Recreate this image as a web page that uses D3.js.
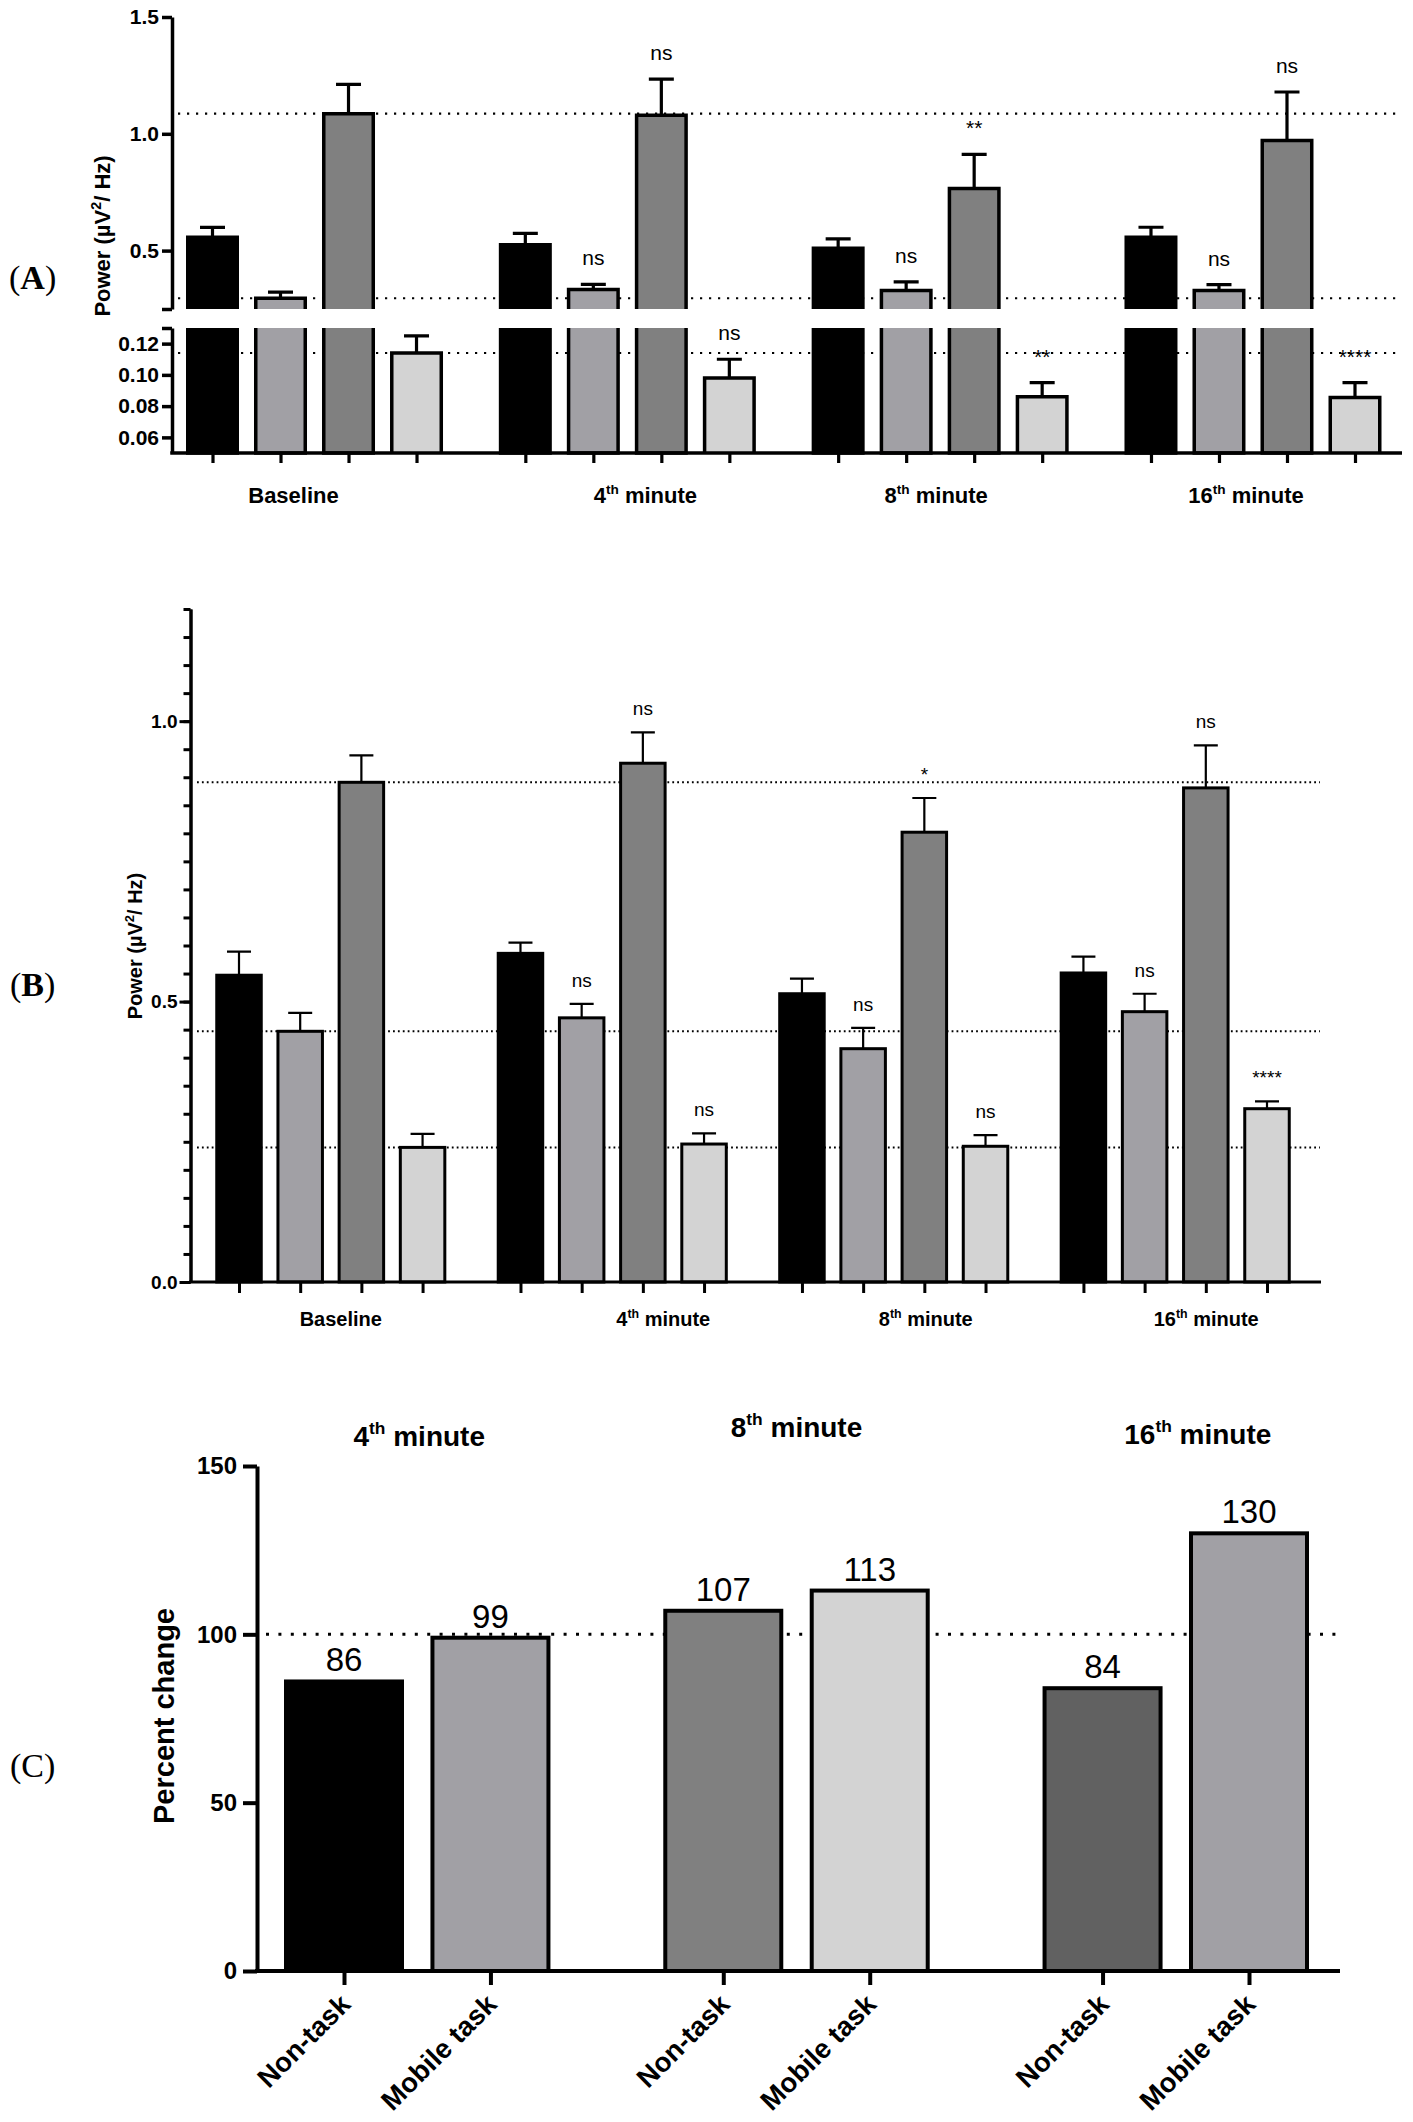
<!DOCTYPE html>
<html>
<head>
<meta charset="utf-8">
<script src="https://cdn.jsdelivr.net/npm/d3@7"></script>
<style>
body { margin: 0; background: #fff; }
text { font-family: "Liberation Sans", Arial, sans-serif; fill: #000; }
</style>
</head>
<body>
<svg id="chart" width="1413" height="2122"></svg>
<script>
// ---- data ----
const timeGroups = ["Baseline", "4th minute", "8th minute", "16th minute"]
const barColors = ["#000000", "#a1a0a5", "#808080", "#d3d3d3"]

// panel A, one row per series, one column per time group
const meanA = [
    [0.557, 0.525, 0.510, 0.557],
    [0.296, 0.333, 0.329, 0.329],
    [1.086, 1.079, 0.766, 0.971],
    [0.114, 0.098, 0.086, 0.0855]
]
const errA = [
    [0.042, 0.049, 0.040, 0.043],
    [0.026, 0.022, 0.037, 0.025],
    [0.126, 0.155, 0.146, 0.208],
    [0.011, 0.012, 0.009, 0.0095]
]
const sigA = [
    ["", "", "", ""],
    ["", "ns", "ns", "ns"],
    ["", "ns", "**", "ns"],
    ["", "ns", "**", "****"]
]
const ticksAUpper = [0.5, 1.0, 1.5]
const ticksALower = [0.06, 0.08, 0.10, 0.12]

// panel B
const meanB = [
    [0.547, 0.586, 0.514, 0.551],
    [0.447, 0.471, 0.416, 0.482],
    [0.891, 0.925, 0.802, 0.881],
    [0.240, 0.246, 0.242, 0.309]
]
const errB = [
    [0.042, 0.019, 0.027, 0.029],
    [0.033, 0.025, 0.037, 0.032],
    [0.048, 0.055, 0.061, 0.076],
    [0.024, 0.019, 0.020, 0.013]
]
const sigB = [
    ["", "", "", ""],
    ["", "ns", "ns", "ns"],
    ["", "ns", "*", "ns"],
    ["", "ns", "ns", "****"]
]
const ticksB = [0.0, 0.5, 1.0]

// panel C
const changeGroups = ["4th minute", "8th minute", "16th minute"]
const changeConds = ["Non-task", "Mobile task"]
const changeValues = [86, 99, 107, 113, 84, 130]
const changeColors = ["#000000", "#a1a0a5", "#808080", "#d3d3d3", "#616161", "#a1a0a5"]
const ticksC = [0, 50, 100, 150]

const svg = d3.select("#chart")
svg.append("rect").attr("width", 1413).attr("height", 2122).attr("fill", "#fff")

// "4th minute" -> 4 + superscript th + minute
function supLabel(sel, label, size) {
    const m = label.match(/^(\d+)(th)(.*)$/)
    if (!m) {
        sel.text(label)
        return
    }
    sel.append("tspan").text(m[1])
    sel.append("tspan").style("font-size", (size * 0.62) + "px").attr("dy", -size * 0.42).text(m[2])
    sel.append("tspan").attr("dy", size * 0.42).text(m[3])
}

function styleAxis(g, width, fontSize) {
    g.select(".domain").attr("stroke", "#000").attr("stroke-width", width)
    g.selectAll(".tick line").attr("stroke", "#000").attr("stroke-width", width)
    g.selectAll(".tick text")
        .attr("font-family", null)
        .style("font-family", "'Liberation Sans', Arial, sans-serif")
        .style("font-size", fontSize + "px")
        .style("font-weight", "bold")
}

function panelLabel(letter, x, y, bold) {
    const t = svg.append("text")
        .attr("x", x).attr("y", y)
        .style("font-family", "'Liberation Serif', 'Times New Roman', serif")
        .style("font-size", "34px")
    t.append("tspan").text("(")
    t.append("tspan").style("font-weight", bold ? "bold" : "normal").text(letter)
    t.append("tspan").text(")")
}

function yTitle(x, y, size, parts) {
    const t = svg.append("text")
        .attr("transform", "translate(" + x + "," + y + ") rotate(-90)")
        .attr("text-anchor", "middle")
        .style("font-size", size + "px")
        .style("font-weight", "bold")
    parts(t, size)
}

function powerTitle(t, size) {
    t.append("tspan").text("Power (\u00b5V")
    t.append("tspan").style("font-size", (size * 0.65) + "px").attr("dy", -size * 0.4).text("2")
    t.append("tspan").attr("dy", size * 0.4).text("/ Hz)")
}

// ---------------- panel A (broken y axis) ----------------
function drawA() {
    const g = svg.append("g")
    const x = d3.scaleLinear().domain([0, 16.8]).range([212.5, 1355])
    const yU = d3.scaleLinear().domain([0.25, 1.5]).range([309, 17])
    const yL = d3.scaleLinear().domain([0.05, 0.13]).range([453, 328])
    const yAny = (v) => v > 0.13 ? yU(v) : yL(v)
    const bw = 49.5
    const rows = []
    meanA.forEach((vals, s) => {
        vals.forEach((v, gi) => {
            rows.push({ s: s, gi: gi, slot: s + gi * 4.6, v: v, e: errA[s][gi], sig: sigA[s][gi] })
        })
    })

    // reference lines at the baseline level of each non-black series
    g.selectAll(".refA")
        .data([1, 2, 3])
        .enter()
        .append("line")
        .attr("class", "refA")
        .attr("x1", 178).attr("x2", 1402)
        .attr("y1", (s) => { return yAny(meanA[s][0]) })
        .attr("y2", (s) => { return yAny(meanA[s][0]) })
        .attr("stroke", "#000")
        .attr("stroke-width", 2.2)
        .attr("stroke-dasharray", "2.2,6.8")

    // upper segment pieces
    const up = rows.filter((d) => d.v > 0.25)
    g.selectAll(".barUp")
        .data(up)
        .enter()
        .append("rect")
        .attr("x", (d) => { return x(d.slot) - bw / 2 })
        .attr("y", (d) => { return yU(d.v) })
        .attr("width", bw)
        .attr("height", (d) => { return yU(0.25) - yU(d.v) })
        .attr("fill", (d) => { return barColors[d.s] })
    g.selectAll(".barUpLine")
        .data(up)
        .enter()
        .append("path")
        .attr("d", (d) => {
            const l = x(d.slot) - bw / 2, r = x(d.slot) + bw / 2
            return "M" + l + "," + yU(0.25) + "V" + yU(d.v) + "H" + r + "V" + yU(0.25)
        })
        .attr("fill", "none").attr("stroke", "#000").attr("stroke-width", 3.5)

    // lower segment pieces
    g.selectAll(".barLow")
        .data(rows)
        .enter()
        .append("rect")
        .attr("x", (d) => { return x(d.slot) - bw / 2 })
        .attr("y", (d) => { return yL(Math.min(d.v, 0.13)) })
        .attr("width", bw)
        .attr("height", (d) => { return yL(0.05) - yL(Math.min(d.v, 0.13)) })
        .attr("fill", (d) => { return barColors[d.s] })
    g.selectAll(".barLowLine")
        .data(rows)
        .enter()
        .append("path")
        .attr("d", (d) => {
            const l = x(d.slot) - bw / 2, r = x(d.slot) + bw / 2
            const t = yL(Math.min(d.v, 0.13)), b = yL(0.05)
            if (d.v > 0.13) return "M" + l + "," + t + "V" + b + "H" + r + "V" + t
            return "M" + l + "," + b + "V" + t + "H" + r + "V" + b
        })
        .attr("fill", "none").attr("stroke", "#000").attr("stroke-width", 3.5)

    // error bars (upper side only)
    g.selectAll(".errA")
        .data(rows)
        .enter()
        .append("path")
        .attr("d", (d) => {
            const cx = x(d.slot), top = yAny(d.v + d.e)
            return "M" + cx + "," + yAny(d.v) + "V" + top + "M" + (cx - 12.5) + "," + top + "H" + (cx + 12.5)
        })
        .attr("fill", "none").attr("stroke", "#000").attr("stroke-width", 3.2)

    g.selectAll(".sigA")
        .data(rows.filter((d) => d.sig !== ""))
        .enter()
        .append("text")
        .attr("x", (d) => { return x(d.slot) })
        .attr("y", (d) => { return yAny(d.v + d.e) - 19 })
        .attr("text-anchor", "middle")
        .style("font-size", "21px")
        .text((d) => { return d.sig })

    // axes
    const axU = g.append("g").attr("transform", "translate(172,0)")
        .call(d3.axisLeft(yU).tickValues([0.25].concat(ticksAUpper)).tickSize(10).tickSizeOuter(0).tickPadding(3)
            .tickFormat((d) => { return d === 0.25 ? "" : d3.format(".1f")(d) }))
    styleAxis(axU, 3.5, 21)
    const axL = g.append("g").attr("transform", "translate(172,0)")
        .call(d3.axisLeft(yL).tickValues(ticksALower.concat([0.13])).tickSize(10).tickSizeOuter(0).tickPadding(3)
            .tickFormat((d) => { return d === 0.13 ? "" : d3.format(".2f")(d) }))
    styleAxis(axL, 3.5, 21)

    g.append("line").attr("x1", 170.25).attr("x2", 1402).attr("y1", 453).attr("y2", 453)
        .attr("stroke", "#000").attr("stroke-width", 3.5)
    const axX = g.append("g").attr("transform", "translate(0,453)")
        .call(d3.axisBottom(x).tickValues(rows.map((d) => d.slot)).tickSize(10).tickFormat(""))
    axX.select(".domain").remove()
    axX.selectAll(".tick line").attr("stroke", "#000").attr("stroke-width", 3.2)

    const dx = [-21, 18, -4, -7]
    timeGroups.forEach((lab, gi) => {
        const t = g.append("text")
            .attr("x", x(1.5 + gi * 4.6) + dx[gi]).attr("y", 503)
            .attr("text-anchor", "middle")
            .style("font-size", "22px").style("font-weight", "bold")
        supLabel(t, lab, 22)
    })

    yTitle(110, 236, 22, powerTitle)
    panelLabel("A", 9, 289, true)
}

// ---------------- panel B ----------------
function drawB() {
    const g = svg.append("g")
    const x = d3.scaleLinear().domain([0, 16.8]).range([239, 1267])
    const y = d3.scaleLinear().domain([0, 1.2]).range([1282, 609])
    const bw = 44.5
    const rows = []
    meanB.forEach((vals, s) => {
        vals.forEach((v, gi) => {
            rows.push({ s: s, gi: gi, slot: s + gi * 4.6, v: v, e: errB[s][gi], sig: sigB[s][gi] })
        })
    })

    g.selectAll(".refB")
        .data([1, 2, 3])
        .enter()
        .append("line")
        .attr("x1", 197).attr("x2", 1320)
        .attr("y1", (s) => { return y(meanB[s][0]) })
        .attr("y2", (s) => { return y(meanB[s][0]) })
        .attr("stroke", "#000")
        .attr("stroke-width", 2)
        .attr("stroke-dasharray", "1.8,3.1")

    g.selectAll(".barB")
        .data(rows)
        .enter()
        .append("rect")
        .attr("x", (d) => { return x(d.slot) - bw / 2 })
        .attr("y", (d) => { return y(d.v) })
        .attr("width", bw)
        .attr("height", (d) => { return y(0) - y(d.v) })
        .attr("fill", (d) => { return barColors[d.s] })
        .attr("stroke", "#000")
        .attr("stroke-width", 3)

    g.selectAll(".errB")
        .data(rows)
        .enter()
        .append("path")
        .attr("d", (d) => {
            const cx = x(d.slot), top = y(d.v + d.e)
            return "M" + cx + "," + y(d.v) + "V" + top + "M" + (cx - 12) + "," + top + "H" + (cx + 12)
        })
        .attr("fill", "none").attr("stroke", "#000").attr("stroke-width", 2.2)

    g.selectAll(".sigB")
        .data(rows.filter((d) => d.sig !== ""))
        .enter()
        .append("text")
        .attr("x", (d) => { return x(d.slot) })
        .attr("y", (d) => { return y(d.v + d.e) - 17 })
        .attr("text-anchor", "middle")
        .style("font-size", "19px")
        .text((d) => { return d.sig })

    const minor = g.append("g").attr("transform", "translate(190.5,0)")
        .call(d3.axisLeft(y).tickValues(d3.range(0, 24.5).map((i) => i * 0.05)).tickSize(7).tickSizeOuter(0).tickFormat(""))
    styleAxis(minor, 3, 19)
    const major = g.append("g").attr("transform", "translate(190.5,0)")
        .call(d3.axisLeft(y).tickValues(ticksB).tickSize(11).tickSizeOuter(0).tickPadding(2).tickFormat(d3.format(".1f")))
    styleAxis(major, 3, 19)

    g.append("line").attr("x1", 189).attr("x2", 1321).attr("y1", 1282).attr("y2", 1282)
        .attr("stroke", "#000").attr("stroke-width", 3)
    const axX = g.append("g").attr("transform", "translate(0,1282)")
        .call(d3.axisBottom(x).tickValues(rows.map((d) => d.slot)).tickSize(11).tickFormat(""))
    axX.select(".domain").remove()
    axX.selectAll(".tick line").attr("stroke", "#000").attr("stroke-width", 3)

    const dx = [10, 51, 32, 31]
    timeGroups.forEach((lab, gi) => {
        const t = g.append("text")
            .attr("x", x(1.5 + gi * 4.6) + dx[gi]).attr("y", 1326)
            .attr("text-anchor", "middle")
            .style("font-size", "20px").style("font-weight", "bold")
        supLabel(t, lab, 20)
    })

    yTitle(142, 946, 20, powerTitle)
    panelLabel("B", 10, 996, true)
}

// ---------------- panel C ----------------
function drawC() {
    const g = svg.append("g")
    const x = d3.scaleLinear().domain([0, 6.18]).range([344, 1249])
    const y = d3.scaleLinear().domain([0, 150]).range([1971, 1466])
    const bw = 116
    const rows = changeValues.map((v, i) => {
        const gi = Math.floor(i / 2), c = i % 2
        return { i: i, gi: gi, c: c, slot: c + gi * 2.59, v: v }
    })

    g.append("line")
        .datum(100)
        .attr("x1", 266).attr("x2", 1340)
        .attr("y1", (d) => { return y(d) }).attr("y2", (d) => { return y(d) })
        .attr("stroke", "#000")
        .attr("stroke-width", 3)
        .attr("stroke-dasharray", "3,9.4")

    g.selectAll(".barC")
        .data(rows)
        .enter()
        .append("rect")
        .attr("x", (d) => { return x(d.slot) - bw / 2 })
        .attr("y", (d) => { return y(d.v) })
        .attr("width", bw)
        .attr("height", (d) => { return y(0) - y(d.v) })
        .attr("fill", (d) => { return changeColors[d.i] })
        .attr("stroke", "#000")
        .attr("stroke-width", 4)

    g.selectAll(".valC")
        .data(rows)
        .enter()
        .append("text")
        .attr("x", (d) => { return x(d.slot) })
        .attr("y", (d) => { return y(d.v) - 10 })
        .attr("text-anchor", "middle")
        .style("font-size", "33px")
        .text((d) => { return d.v })

    const axY = g.append("g").attr("transform", "translate(257,0)")
        .call(d3.axisLeft(y).tickValues(ticksC).tickSize(14).tickSizeOuter(0).tickPadding(6))
    styleAxis(axY, 4, 24)

    g.append("line").attr("x1", 255).attr("x2", 1340).attr("y1", 1971).attr("y2", 1971)
        .attr("stroke", "#000").attr("stroke-width", 4)
    const axX = g.append("g").attr("transform", "translate(0,1971)")
        .call(d3.axisBottom(x).tickValues(rows.map((d) => d.slot)).tickSize(14).tickFormat(""))
    axX.select(".domain").remove()
    axX.selectAll(".tick line").attr("stroke", "#000").attr("stroke-width", 4)

    g.selectAll(".condC")
        .data(rows)
        .enter()
        .append("text")
        .attr("transform", (d) => { return "translate(" + (x(d.slot) + 8) + ",2006) rotate(-45)" })
        .attr("text-anchor", "end")
        .style("font-size", "27.5px")
        .style("font-weight", "bold")
        .text((d) => { return changeConds[d.c] })

    const dx = [2, 0, 22]
    const dy = [1446, 1437, 1444]
    changeGroups.forEach((lab, gi) => {
        const t = g.append("text")
            .attr("x", x(0.5 + gi * 2.59) + dx[gi]).attr("y", dy[gi])
            .attr("text-anchor", "middle")
            .style("font-size", "28px").style("font-weight", "bold")
        supLabel(t, lab, 28)
    })

    yTitle(174, 1716, 29, (t) => { t.text("Percent change") })
    panelLabel("C", 10, 1777, false)
}

drawA()
drawB()
drawC()
</script>
</body>
</html>
